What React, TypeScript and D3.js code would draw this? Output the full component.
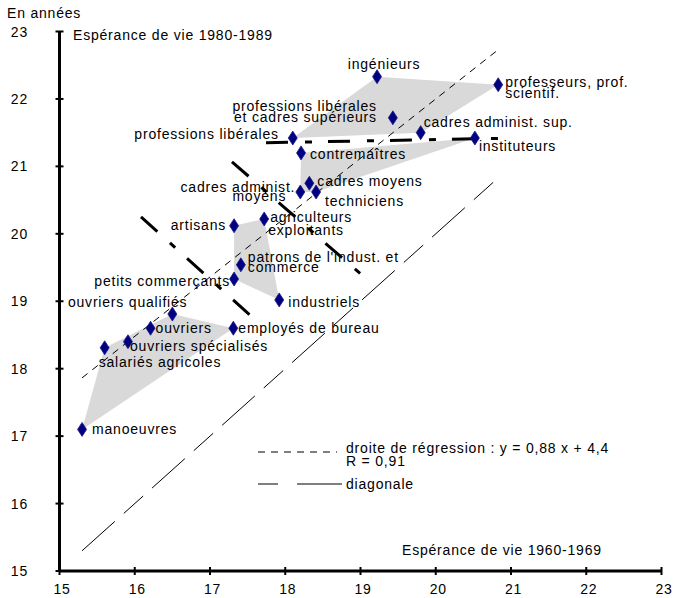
import React from 'react';
import * as d3 from 'd3';

// ---- Data (x: espérance de vie 1960-1969, y: espérance de vie 1980-1989) ----
const categories = [
  'ingénieurs',
  'professeurs, prof. scientif.',
  'professions libérales et cadres supérieurs',
  'cadres administ. sup.',
  'instituteurs',
  'professions libérales',
  'contremaîtres',
  'cadres moyens',
  'cadres administ. moyens',
  'techniciens',
  'agriculteurs exploitants',
  'artisans',
  "patrons de l'indust. et commerce",
  'petits commerçants',
  'industriels',
  'ouvriers qualifiés',
  'ouvriers',
  'employés de bureau',
  'ouvriers spécialisés',
  'salariés agricoles',
  'manoeuvres',
];
const lifeExp1960 = [19.22, 20.83, 19.43, 19.8, 20.52, 18.1, 18.21, 18.32, 18.2, 18.41, 17.72, 17.32, 17.41, 17.32, 17.92, 16.5, 16.21, 17.31, 15.91, 15.6, 15.3];
const lifeExp1980 = [22.33, 22.21, 21.72, 21.5, 21.42, 21.42, 21.2, 20.75, 20.62, 20.62, 20.22, 20.12, 19.54, 19.33, 19.02, 18.81, 18.6, 18.6, 18.4, 18.31, 17.1];
const clusterOf = [0, 0, 0, 0, 1, 0, 1, 1, 1, 1, 2, 2, 2, 2, 2, 3, 3, 3, 3, 3, 3];

const axisTicks = [15, 16, 17, 18, 19, 20, 21, 22, 23];
const regressionSlope = 0.88;
const regressionIntercept = 4.4;
const lineRange = [15.3, 20.8];
// extra heavy dashed strokes present in the original figure, in data units
const guideSegments = [
  [17.744, 21.35, 20.92, 21.417],
  [16.083, 20.252, 17.691, 18.635],
  [17.292, 21.068, 19.153, 19.258],
];

// ---- Label layout (pixel offsets from each point) ----
type LabelLine = { t: string; dx: number; dy: number; a: 'start' | 'middle' | 'end' };
const labelLayout: LabelLine[][] = [
  [{ t: 'ingénieurs', dx: 7, dy: -8, a: 'middle' }],
  [
    { t: 'professeurs, prof.', dx: 7, dy: 2, a: 'start' },
    { t: 'scientif.', dx: 7, dy: 13, a: 'start' },
  ],
  [
    { t: 'professions libérales', dx: -16, dy: -7, a: 'end' },
    { t: 'et cadres supérieurs', dx: -16, dy: 4, a: 'end' },
  ],
  [{ t: 'cadres administ. sup.', dx: 3, dy: -6, a: 'start' }],
  [{ t: 'instituteurs', dx: 4, dy: 13, a: 'start' }],
  [{ t: 'professions libérales', dx: -14, dy: 1, a: 'end' }],
  [{ t: 'contremaîtres', dx: 9, dy: 6, a: 'start' }],
  [{ t: 'cadres moyens', dx: 8, dy: 3, a: 'start' }],
  [
    { t: 'cadres administ.', dx: -5, dy: 0, a: 'end' },
    { t: 'moyens', dx: -41, dy: 9, a: 'middle' },
  ],
  [{ t: 'techniciens', dx: 9, dy: 14, a: 'start' }],
  [
    { t: 'agriculteurs', dx: 6, dy: 3, a: 'start' },
    { t: 'exploitants', dx: 4, dy: 16, a: 'start' },
  ],
  [{ t: 'artisans', dx: -8, dy: 4, a: 'end' }],
  [
    { t: "patrons de l'indust. et", dx: 7, dy: -3, a: 'start' },
    { t: 'commerce', dx: 7, dy: 7, a: 'start' },
  ],
  [{ t: 'petits commerçants', dx: -4, dy: 7, a: 'end' }],
  [{ t: 'industriels', dx: 9, dy: 7, a: 'start' }],
  [{ t: 'ouvriers qualifiés', dx: 15, dy: -7, a: 'end' }],
  [{ t: 'ouvriers', dx: 5, dy: 5, a: 'start' }],
  [{ t: 'employés de bureau', dx: 5, dy: 5, a: 'start' }],
  [{ t: 'ouvriers spécialisés', dx: 2, dy: 9, a: 'start' }],
  [{ t: 'salariés agricoles', dx: -6, dy: 19, a: 'start' }],
  [{ t: 'manoeuvres', dx: 10, dy: 5, a: 'start' }],
];

const W = 675;
const H = 598;
const FONT = "'Liberation Sans', Arial, sans-serif";

export default function App() {
  const x = d3.scaleLinear().domain([15, 23]).range([59.5, 661.5]);
  const y = d3.scaleLinear().domain([15, 23]).range([571, 31.5]);

  const pts = categories.map((c, i) => ({
    name: c,
    px: x(lifeExp1960[i]),
    py: y(lifeExp1980[i]),
    cluster: clusterOf[i],
    i,
  }));

  const clusters = d3.groups(pts, (p) => p.cluster).map(([k, arr]) => {
    const hull = d3.polygonHull(arr.map((p) => [p.px, p.py] as [number, number]));
    return { k, hull };
  });

  const regPath = d3
    .line<number>()
    .x((v) => x(v))
    .y((v) => y(regressionSlope * v + regressionIntercept))(lineRange);
  const diagPath = d3
    .line<number>()
    .x((v) => x(v))
    .y((v) => y(v))(lineRange);

  const x0 = x(15);
  const y0 = y(15);

  const textStyle: React.CSSProperties = { fontFamily: FONT, fontSize: 14, letterSpacing: 0.8 };

  const diamond = (cx: number, cy: number) =>
    `M${cx},${cy - 7} L${cx + 4.5},${cy} L${cx},${cy + 7} L${cx - 4.5},${cy} Z`;

  return (
    <svg
      width={W}
      height={H}
      viewBox={`0 0 ${W} ${H}`}
      style={{ position: 'absolute', left: 0, top: 0, background: '#fff' }}
    >
      <g style={textStyle}>
        {/* cluster hulls */}
        {clusters.map((c) =>
          c.hull ? (
            <path key={c.k} d={'M' + c.hull.map((p) => p.join(',')).join('L') + 'Z'} fill="#d9d9d9" stroke="none" />
          ) : null
        )}

        {/* diagonal */}
        <path d={diagPath || ''} fill="none" stroke="#000" strokeWidth={1} strokeDasharray="44,12,26,12" />
        {/* regression */}
        <path d={regPath || ''} fill="none" stroke="#000" strokeWidth={1} strokeDasharray="7,6" />

        {/* heavy dashed strokes */}
        {guideSegments.map((s, i) => (
          <line
            key={i}
            x1={x(s[0])}
            y1={y(s[1])}
            x2={x(s[2])}
            y2={y(s[3])}
            stroke="#000"
            strokeWidth={3}
            strokeDasharray="22,17,7,16"
          />
        ))}

        {/* axes */}
        <line x1={x0} y1={y0} x2={x(23)} y2={y0} stroke="#000" strokeWidth={3} />
        <line x1={x0} y1={y0} x2={x0} y2={y(23)} stroke="#000" strokeWidth={3} />
        {axisTicks.map((t) => (
          <g key={'xt' + t}>
            <line x1={x(t)} x2={x(t)} y1={y0 - 4} y2={y0 + 4} stroke="#000" strokeWidth={2} />
            <text x={x(t) + 2.5} y={594} textAnchor="middle" fill="#000">
              {t}
            </text>
          </g>
        ))}
        {axisTicks.map((t) => (
          <g key={'yt' + t}>
            <line x1={x0 - 4} x2={x0 + 4} y1={y(t)} y2={y(t)} stroke="#000" strokeWidth={2} />
            <text x={28} y={y(t) + 5} textAnchor="end" fill="#000">
              {t}
            </text>
          </g>
        ))}

        {/* points */}
        {pts.map((p) => (
          <path key={'pt' + p.i} d={diamond(p.px, p.py)} fill="#000080" stroke="#1c1c8a" strokeWidth={0.8} />
        ))}

        {/* point labels */}
        {pts.map((p) =>
          labelLayout[p.i].map((l, j) => (
            <text key={'lb' + p.i + '-' + j} x={p.px + l.dx} y={p.py + l.dy} textAnchor={l.a} fill="#000">
              {l.t}
            </text>
          ))
        )}

        {/* titles */}
        <text x={7} y={18} fill="#000">En années</text>
        <text x={73} y={40} fill="#000">Espérance de vie 1980-1989</text>
        <text x={402} y={555} fill="#000">Espérance de vie 1960-1969</text>

        {/* legend */}
        <line x1={258} x2={337} y1={452} y2={452} stroke="#000" strokeWidth={1} strokeDasharray="7,6" />
        <text x={346} y={453} fill="#000">droite de régression : y = 0,88 x + 4,4</text>
        <text x={346} y={466} fill="#000">R = 0,91</text>
        <line x1={258} x2={342} y1={484} y2={484} stroke="#000" strokeWidth={1} strokeDasharray="20,19,45" />
        <text x={346} y={489} fill="#000">diagonale</text>
      </g>
    </svg>
  );
}
